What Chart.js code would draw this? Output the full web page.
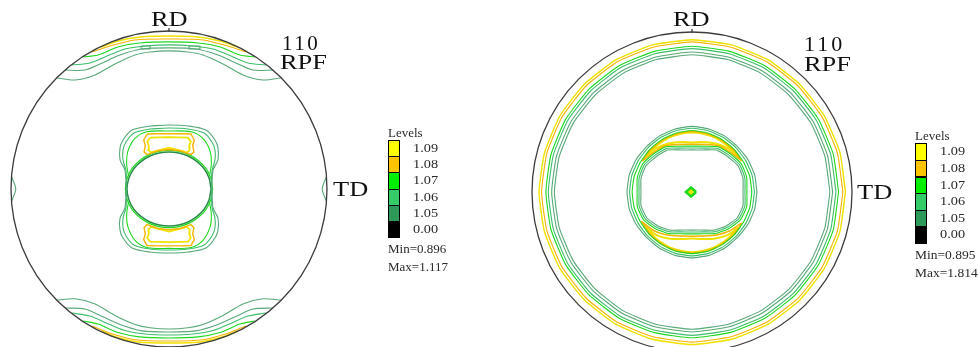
<!DOCTYPE html>
<html>
<head>
<meta charset="utf-8">
<title>110 RPF pole figures</title>
<script src="https://cdn.jsdelivr.net/npm/chart.js@4.4.1/dist/chart.umd.min.js"></script>
<style>
  html, body { margin: 0; padding: 0; background: #fff; }
  body {
    width: 978px; height: 347px; position: relative; overflow: hidden;
    font-family: "Liberation Serif", "Times New Roman", serif; color: #000;
  }
  canvas { position: absolute; }
  .lbl { position: absolute; line-height: 1; white-space: nowrap; transform-origin: 0 0; color: #111; }
  .big { font-size: 22px; transform: scaleX(1.2); }
  .num { font-size: 21px; letter-spacing: 2.5px; }
  .leg { position: absolute; line-height: 1; white-space: nowrap; color: #2a2a2a; transform-origin: 0 0; }
  .cell { position: absolute; width: 12px; border: 1px solid #000; box-sizing: border-box; }
</style>
</head>
<body>
<canvas id="pfLeft" width="340" height="340" style="left:-1px;top:19px"></canvas>
<canvas id="pfRight" width="340" height="340" style="left:522px;top:22px"></canvas>

<div class="lbl big" style="left:151px;top:8px">RD</div>
<div class="lbl num" style="left:282px;top:32.5px">110</div>
<div class="lbl big" style="left:280px;top:51px">RPF</div>
<div class="lbl big" style="left:333px;top:178px">TD</div>

<div class="lbl big" style="left:673px;top:8px">RD</div>
<div class="lbl num" style="left:804px;top:32.5px;font-size:22px;letter-spacing:3px">110</div>
<div class="lbl big" style="left:804px;top:53px">RPF</div>
<div class="lbl big" style="left:857px;top:181px">TD</div>

<div id="legLeft"></div>
<div id="legRight"></div>

<script>
// ---- contour levels (legend) ----
const LEVELS = ['1.09', '1.08', '1.07', '1.06', '1.05', '0.00'];
const LEFT_MINMAX = ['Min=0.896', 'Max=1.117'];
const RIGHT_MINMAX = ['Min=0.895', 'Max=1.814'];

// directions (deg, counterclockwise from TD) for closed contours given as radii
const ANG = [0, 15, 30, 45, 60, 75, 90, 105, 120, 135, 150, 165,
             180, 195, 210, 225, 240, 255, 270, 285, 300, 315, 330, 345];

// ---- left pole figure (radius = 100) ----
// band near RD (top)
const LT_109_X = [-43.0, -32.3, -18.4, 0, 18.4, 32.3, 43.7];
const LT_109_Y = [89.9, 93.7, 96.2, 96.8, 96.2, 93.7, 89.9];
const LT_108_X = [-48.7, -37.3, -21.5, 0, 21.5, 37.3, 48.7];
const LT_108_Y = [86.7, 90.5, 94.3, 94.9, 94.3, 90.5, 86.7];
const LT_107_X = [-54.4, -44.9, -32.3, -18.4, 0, 18.4, 32.3, 44.9, 54.4];
const LT_107_Y = [83.6, 84.8, 89.9, 92.4, 93.1, 92.4, 89.9, 84.8, 83.6];
const LT_106_X = [-61.4, -50.0, -40.5, -27.9, -15.2, 0, 15.2, 27.9, 40.5, 50.0, 61.4];
const LT_106_Y = [78.5, 79.8, 83.6, 88.6, 90.5, 91.2, 90.5, 88.6, 83.6, 79.8, 78.5];
const LT_105_X = [-65.8, -53.2, -43.7, -31.0, -17.1, 0, 17.1, 31.0, 43.7, 53.2, 65.8];
const LT_105_Y = [75.3, 75.3, 79.1, 84.8, 88.6, 89.3, 88.6, 84.8, 79.1, 75.3, 75.3];
const LT_105B_X = [-70.9, -59.5, -46.8, -34.2, -21.5, -12.0, 0, 12.0, 21.5, 34.2, 46.8, 59.5, 70.9];
const LT_105B_Y = [70.3, 69.0, 72.2, 79.1, 84.8, 86.7, 87.4, 86.7, 84.8, 79.1, 72.2, 69.0, 70.3];
// band near -RD (bottom)
const LB_109_X = [-43.0, -32.3, -18.4, 0, 18.4, 32.3, 43.7];
const LB_109_Y = [-89.9, -94.2, -97.0, -97.5, -97.0, -94.2, -89.9];
const LB_108_X = [-48.7, -37.3, -21.5, 0, 21.5, 37.3, 48.7];
const LB_108_Y = [-86.7, -91.3, -95.4, -96.2, -95.4, -91.3, -86.7];
const LB_107_X = [-54.4, -44.9, -32.3, -18.4, 0, 18.4, 32.3, 44.9, 54.4];
const LB_107_Y = [-83.6, -85.5, -90.8, -93.6, -94.3, -93.6, -90.8, -85.5, -83.6];
const LB_106_X = [-61.4, -50.0, -40.5, -27.9, -15.2, 0, 15.2, 27.9, 40.5, 50.0, 61.4];
const LB_106_Y = [-78.5, -80.4, -84.5, -89.6, -91.8, -92.4, -91.8, -89.6, -84.5, -80.4, -78.5];
const LB_105_X = [-65.8, -53.2, -43.7, -31.0, -17.1, 0, 17.1, 31.0, 43.7, 53.2, 65.8];
const LB_105_Y = [-75.3, -76.0, -80.0, -85.8, -89.8, -90.5, -89.8, -85.8, -80.0, -76.0, -75.3];
const LB_105B_X = [-70.9, -59.5, -46.8, -34.2, -21.5, -12.0, 0, 12.0, 21.5, 34.2, 46.8, 59.5, 70.9];
const LB_105B_Y = [-70.3, -69.5, -72.8, -80.0, -85.7, -87.8, -88.6, -87.8, -85.7, -80.0, -72.8, -69.5, -70.3];
// little islands and the TD edges
const L_ISL1_X = [-17.7, -12.0, -12.0, -17.7, -17.7];
const L_ISL1_Y = [90.5, 90.5, 88.6, 88.6, 90.5];
const L_ISL2_X = [12.7, 19.6, 19.6, 12.7, 12.7];
const L_ISL2_Y = [90.5, 90.5, 88.6, 88.6, 90.5];
const L_TDW_X = [-99.6, -97.0, -99.6];
const L_TDE_X = [99.6, 97.0, 99.6];
const L_TD_Y = [7.6, 0, -7.6];
// centre: hole, surrounding contours, patches above and below
const L_HOLE_R = [26.6, 26.3, 25.7, 24.8, 24.1, 23.6, 23.4, 23.6, 24.1, 24.8, 25.7, 26.3,
                  26.6, 26.3, 25.7, 24.8, 24.1, 23.6, 23.4, 23.6, 24.1, 24.8, 25.7, 26.3];
const L_HOLE_EDGE_R = [27.6, 27.3, 26.7, 25.8, 25.1, 24.6, 24.4, 24.6, 25.1, 25.8, 26.7, 27.3,
                       27.6, 27.3, 26.7, 25.8, 25.1, 24.6, 24.4, 24.6, 25.1, 25.8, 26.7, 27.3];
const LC_105_X = [-12.0, 0, 12.0, 23.4, 29.1, 31.0, 31.0, 27.9, 27.2, 27.9, 31.0, 31.0, 29.1, 23.4,
                  12.0, 0, -12.0, -23.4, -29.1, -31.0, -31.0, -27.9, -27.2, -27.9, -31.0, -31.0, -29.1, -23.4, -12.0];
const LC_105_Y = [39.9, 40.5, 39.9, 37.3, 31.0, 26.0, 18.4, 12.0, 0, -12.0, -18.4, -26.0, -31.0, -37.3,
                  -39.9, -40.5, -39.9, -37.3, -31.0, -26.0, -18.4, -12.0, 0, 12.0, 18.4, 26.0, 31.0, 37.3, 39.9];
const LC_106_X = [-12.0, 0, 12.0, 22.2, 27.2, 29.1, 29.1, 27.2, 26.9, 27.2, 29.1, 29.1, 27.2, 22.2,
                  12.0, 0, -12.0, -22.2, -27.2, -29.1, -29.1, -27.2, -26.9, -27.2, -29.1, -29.1, -27.2, -22.2, -12.0];
const LC_106_Y = [38.0, 38.6, 38.0, 35.4, 29.7, 24.7, 18.4, 11.5, 0, -11.5, -18.4, -24.7, -29.7, -35.4,
                  -38.0, -38.6, -38.0, -35.4, -29.7, -24.7, -18.4, -11.5, 0, 11.5, 18.4, 24.7, 29.7, 35.4, 38.0];
const LC_107_X = [-25.6, -26.8, -26.0, -21.5, -14.0, 0, 14.0, 21.5, 26.0, 26.8, 25.6];
const LC_107T_Y = [8, 16, 24, 32.0, 36.2, 36.7, 36.2, 32.0, 24, 16, 8];
const LC_107B_Y = [-8, -16, -24, -32.5, -37.0, -37.6, -37.0, -32.5, -24, -16, -8];
const LP_108_X = [-13.9, -7, 0, 7, 13.9, 16.0, 15.0, 15.8, 13.9, 7, 0, -7, -13.9, -15.8, -15.0, -16.0, -13.9];
const LP_108T_Y = [34.8, 35.0, 35.0, 35.0, 34.8, 31.0, 27.5, 23.5, 21.8, 24.2, 25.0, 24.2, 21.8, 23.5, 27.5, 31.0, 34.8];
const LP_108B_Y = [-35.8, -36.0, -36.0, -36.0, -35.8, -32.0, -28.5, -24.5, -22.5, -25.0, -25.8, -25.0, -22.5, -24.5, -28.5, -32.0, -35.8];
const LP_109_X = [-12.0, 0, 12.0, 13.8, 12.8, 13.0, 11.5, 0, -11.5, -13.0, -12.8, -13.8, -12.0];
const LP_109T_Y = [32.5, 32.8, 32.5, 30.0, 27.5, 24.5, 23.2, 26.2, 23.2, 24.5, 27.5, 30.0, 32.5];
const LP_109B_Y = [-33.3, -33.6, -33.3, -31.0, -28.5, -25.5, -24.0, -27.0, -24.0, -25.5, -28.5, -31.0, -33.3];

// ---- right pole figure (radius = 100) ----
// rings close to the rim
const RR_109 = [95.9, 95.7, 95.4, 95.2, 95.3, 95.2, 95.2, 95.2, 95.3, 95.2, 95.3, 95.4,
                95.6, 95.5, 95.4, 95.3, 95.4, 95.3, 95.3, 95.3, 95.4, 95.4, 95.5, 95.7];
const RR_108 = [94.3, 94.1, 93.9, 93.7, 93.8, 93.7, 93.8, 93.7, 93.8, 93.7, 93.8, 93.9,
                94.0, 93.9, 93.8, 93.7, 93.8, 93.7, 93.8, 93.7, 93.8, 93.8, 93.9, 94.1];
const RR_107 = [91.6, 91.4, 91.2, 91.0, 91.1, 91.0, 91.1, 91.0, 91.1, 91.0, 91.1, 91.2,
                91.3, 91.2, 91.1, 91.0, 91.1, 91.0, 91.1, 91.0, 91.1, 91.1, 91.2, 91.4];
const RR_106 = [90.0, 89.8, 89.7, 89.5, 89.6, 89.5, 89.6, 89.5, 89.6, 89.5, 89.6, 89.7,
                89.8, 89.7, 89.6, 89.5, 89.6, 89.5, 89.6, 89.5, 89.6, 89.6, 89.7, 89.8];
const RR_105 = [87.9, 87.7, 87.6, 87.4, 87.5, 87.4, 87.5, 87.4, 87.5, 87.4, 87.5, 87.6,
                87.7, 87.6, 87.5, 87.4, 87.5, 87.4, 87.5, 87.4, 87.5, 87.5, 87.6, 87.7];
const RR_105B = [86.2, 86.0, 85.9, 85.7, 85.8, 85.7, 85.8, 85.7, 85.8, 85.7, 85.8, 85.9,
                 86.0, 85.9, 85.8, 85.7, 85.8, 85.7, 85.8, 85.7, 85.8, 85.8, 85.9, 86.0];
// inner band: outer and inner edges
const RO_105 = [40.6, 40.6, 40.4, 40.2, 40.5, 40.8, 41.0, 40.8, 40.5, 40.2, 40.4, 40.6,
                40.6, 40.6, 40.4, 40.2, 40.6, 41.0, 41.2, 41.0, 40.6, 40.2, 40.4, 40.6];
const RO_106 = [39.0, 39.0, 38.9, 39.0, 39.3, 39.6, 39.8, 39.6, 39.3, 39.0, 38.9, 39.0,
                39.0, 39.0, 38.9, 39.1, 39.4, 39.7, 39.9, 39.7, 39.4, 39.1, 38.9, 39.0];
const RO_107 = [37.4, 37.4, 37.3, 37.5, 37.8, 38.2, 38.4, 38.2, 37.8, 37.5, 37.3, 37.4,
                37.4, 37.4, 37.3, 37.6, 38.0, 38.3, 38.5, 38.3, 38.0, 37.6, 37.3, 37.4];
const RI_107 = [34.3, 35.4, 35.5, 33.8, 32.7, 29.6, 28.7, 29.6, 32.7, 33.8, 35.5, 35.4,
                34.3, 35.4, 34.9, 32.4, 29.9, 27.0, 26.2, 27.0, 29.9, 32.4, 34.9, 35.4];
const RI_106 = [33.1, 34.2, 34.3, 32.6, 31.5, 28.4, 27.5, 28.4, 31.5, 32.6, 34.3, 34.2,
                33.1, 34.2, 33.7, 31.2, 28.7, 25.8, 25.0, 25.8, 28.7, 31.2, 33.7, 34.2];
const RI_105 = [31.9, 33.0, 33.1, 31.4, 30.3, 27.2, 26.3, 27.2, 30.3, 31.4, 33.1, 33.0,
                31.9, 33.0, 32.5, 30.0, 27.5, 24.6, 23.8, 24.6, 27.5, 30.0, 32.5, 33.0];
// crescents of high density above and below the hole
const RCT_108_A = [32, 45, 60, 75, 90, 105, 120, 135, 148, 135, 120, 105, 90, 75, 60, 45, 32];
const RCT_108_R = [36.6, 37.0, 37.3, 37.6, 37.8, 37.6, 37.3, 37.0, 36.6, 34.6, 33.4, 30.8, 29.8, 30.8, 33.4, 34.6, 36.6];
const RCT_109_A = [38, 50, 65, 80, 90, 100, 115, 130, 142, 130, 115, 100, 90, 80, 65, 50, 38];
const RCT_109_R = [36.2, 36.5, 36.9, 37.1, 37.2, 37.1, 36.9, 36.5, 36.2, 35.3, 33.6, 31.8, 31.0, 31.8, 33.6, 35.3, 36.2];
const RCB_108_A = [210, 225, 240, 255, 270, 285, 300, 315, 328, 315, 300, 285, 270, 255, 240, 225, 210];
const RCB_108_R = [36.6, 37.1, 37.6, 38.0, 38.2, 38.0, 37.6, 37.1, 36.6, 34.0, 31.0, 28.5, 27.6, 28.5, 31.0, 34.0, 36.6];
const RCB_109_A = [216, 230, 245, 260, 270, 280, 295, 310, 322, 310, 295, 280, 270, 260, 245, 230, 216];
const RCB_109_R = [36.2, 36.7, 37.2, 37.5, 37.6, 37.5, 37.2, 36.7, 36.2, 35.0, 32.3, 29.8, 29.0, 29.8, 32.3, 35.0, 36.2];
// small peak at ND
const RD_107_X = [2.6, -0.6, -3.8, -0.6, 2.6];
const RD_107_Y = [0, 2.8, 0, -2.8, 0];
const RD_109_X = [0.8, -0.6, -2.0, -0.6, 0.8];
const RD_109_Y = [0, 1.2, 0, -1.2, 0];

// ---- styles ----
const BOX_COLOR = ['#ffff00', '#ffc400', '#00ee00', '#33cc66', '#2e9a5a', '#000000'];
const LINE_COLOR = { '1.09': '#f0e200', '1.08': '#f5b400', '1.07': '#1ed81e', '1.06': '#3dbd6c', '1.05': '#58a878' };

const toRad = Math.PI / 180;
function fromPolar(ang, r) {
  return ang.map((a, i) => ({ x: r[i] * Math.cos(a * toRad), y: r[i] * Math.sin(a * toRad) }));
}
function ring(r) {
  const pts = fromPolar(ANG, r);
  return pts.concat([pts[0]]);
}
function fromXY(xs, ys) {
  return xs.map((x, i) => ({ x: x, y: ys[i] }));
}
function contour(pts, level, opts) {
  return Object.assign({
    data: pts, borderColor: LINE_COLOR[level], borderWidth: 1.1,
    showLine: true, pointRadius: 0, fill: false, tension: 0
  }, opts || {});
}

// outer circle of the projection, plus the RD mark
const rimPlugin = {
  id: 'rim',
  afterDatasetsDraw(chart) {
    const { ctx, scales: { x, y } } = chart;
    const cx = x.getPixelForValue(0), cy = y.getPixelForValue(0);
    const r = x.getPixelForValue(100) - cx;
    ctx.save();
    ctx.strokeStyle = '#3c3c3c';
    ctx.lineWidth = 1.3;
    ctx.beginPath();
    ctx.arc(cx, cy, r, 0, 2 * Math.PI);
    ctx.stroke();
    ctx.beginPath();
    ctx.moveTo(cx, cy - r - 3);
    ctx.lineTo(cx, cy - r + 1);
    ctx.stroke();
    ctx.restore();
  }
};

function poleFigure(id, half, datasets) {
  return new Chart(document.getElementById(id), {
    type: 'scatter',
    data: { datasets: datasets },
    options: {
      responsive: false, animation: false, events: [], devicePixelRatio: 1,
      layout: { padding: 0 },
      plugins: { legend: { display: false }, tooltip: { enabled: false } },
      scales: {
        x: { type: 'linear', min: -half, max: half, display: false },
        y: { type: 'linear', min: -half, max: half, display: false }
      }
    },
    plugins: [rimPlugin]
  });
}

const smooth = { tension: 0.3 };
const soft = { tension: 0.15 };
poleFigure('pfLeft', 107.6, [
  contour(fromXY(LT_105B_X, LT_105B_Y), '1.05', smooth),
  contour(fromXY(LT_105_X, LT_105_Y), '1.05', smooth),
  contour(fromXY(LT_106_X, LT_106_Y), '1.06', smooth),
  contour(fromXY(LT_107_X, LT_107_Y), '1.07', smooth),
  contour(fromXY(LT_108_X, LT_108_Y), '1.08', smooth),
  contour(fromXY(LT_109_X, LT_109_Y), '1.09', { tension: 0.3, borderWidth: 1.5 }),
  contour(fromXY(LB_105B_X, LB_105B_Y), '1.05', smooth),
  contour(fromXY(LB_105_X, LB_105_Y), '1.05', smooth),
  contour(fromXY(LB_106_X, LB_106_Y), '1.06', smooth),
  contour(fromXY(LB_107_X, LB_107_Y), '1.07', smooth),
  contour(fromXY(LB_108_X, LB_108_Y), '1.08', smooth),
  contour(fromXY(LB_109_X, LB_109_Y), '1.09', { tension: 0.3, borderWidth: 1.5 }),
  contour(fromXY(L_ISL1_X, L_ISL1_Y), '1.05'),
  contour(fromXY(L_ISL2_X, L_ISL2_Y), '1.05'),
  contour(fromXY(L_TDW_X, L_TD_Y), '1.05', smooth),
  contour(fromXY(L_TDE_X, L_TD_Y), '1.05', smooth),
  contour(fromXY(LC_105_X, LC_105_Y), '1.05', smooth),
  contour(fromXY(LC_106_X, LC_106_Y), '1.06', smooth),
  contour(fromXY(LC_107_X, LC_107T_Y), '1.07', smooth),
  contour(fromXY(LC_107_X, LC_107B_Y), '1.07', smooth),
  contour(fromXY(LP_108_X, LP_108T_Y), '1.08', { borderWidth: 1.4 }),
  contour(fromXY(LP_108_X, LP_108B_Y), '1.08', { borderWidth: 1.4 }),
  contour(fromXY(LP_109_X, LP_109T_Y), '1.09', { borderWidth: 1.8 }),
  contour(fromXY(LP_109_X, LP_109B_Y), '1.09', { borderWidth: 1.8 }),
  contour(ring(L_HOLE_EDGE_R), '1.07', { tension: 0.3, borderWidth: 1.2 }),
  contour(ring(L_HOLE_R), '1.05', { tension: 0.3, borderColor: '#2a8d4a', borderWidth: 1.5 })
]);

poleFigure('pfRight', 106.25, [
  contour(ring(RR_105B), '1.05', soft),
  contour(ring(RR_105), '1.05', soft),
  contour(ring(RR_106), '1.06', soft),
  contour(ring(RR_107), '1.07', soft),
  contour(ring(RR_108), '1.08', soft),
  contour(ring(RR_109), '1.09', { tension: 0.15, borderWidth: 1.4 }),
  contour(ring(RO_105), '1.05', soft),
  contour(ring(RO_106), '1.06', soft),
  contour(ring(RO_107), '1.07', soft),
  contour(ring(RI_107), '1.07', soft),
  contour(ring(RI_106), '1.06', soft),
  contour(ring(RI_105), '1.05', soft),
  contour(fromPolar(RCT_108_A, RCT_108_R), '1.08', { tension: 0.2, borderWidth: 1.5 }),
  contour(fromPolar(RCT_109_A, RCT_109_R), '1.09', { tension: 0.2, borderWidth: 2 }),
  contour(fromPolar(RCB_108_A, RCB_108_R), '1.08', { tension: 0.2, borderWidth: 1.5 }),
  contour(fromPolar(RCB_109_A, RCB_109_R), '1.09', { tension: 0.2, borderWidth: 2 }),
  contour(fromXY(RD_107_X, RD_107_Y), '1.07', { borderWidth: 2.5 }),
  contour(fromXY(RD_109_X, RD_109_Y), '1.09', { borderWidth: 2.5 })
]);

// ---- colour-level legends ----
function legend(id, left, top, cell, minmax, textSize) {
  const host = document.getElementById(id);
  let html = '<div class="leg" style="left:' + left + 'px;top:' + (top - 14) + 'px;font-size:13px">Levels</div>';
  LEVELS.forEach((lv, i) => {
    const y = top + i * cell;
    html += '<div class="cell" style="left:' + left + 'px;top:' + y + 'px;height:' + (cell + 1) + 'px;background:' + BOX_COLOR[i] + '"></div>';
    html += '<div class="leg" style="left:' + (left + 25) + 'px;top:' + y + 'px;font-size:13px;line-height:' + cell + 'px;transform:scaleX(1.1)">' + lv + '</div>';
  });
  const below = top + LEVELS.length * cell;
  minmax.forEach((t, i) => {
    html += '<div class="leg" style="left:' + left + 'px;top:' + (below + 5 + i * 18) + 'px;font-size:' + textSize + 'px">' + t + '</div>';
  });
  host.innerHTML = html;
}
legend('legLeft', 388, 140, 16.2, LEFT_MINMAX, 13);
legend('legRight', 915, 143.3, 16.6, RIGHT_MINMAX, 13.5);
</script>
</body>
</html>
